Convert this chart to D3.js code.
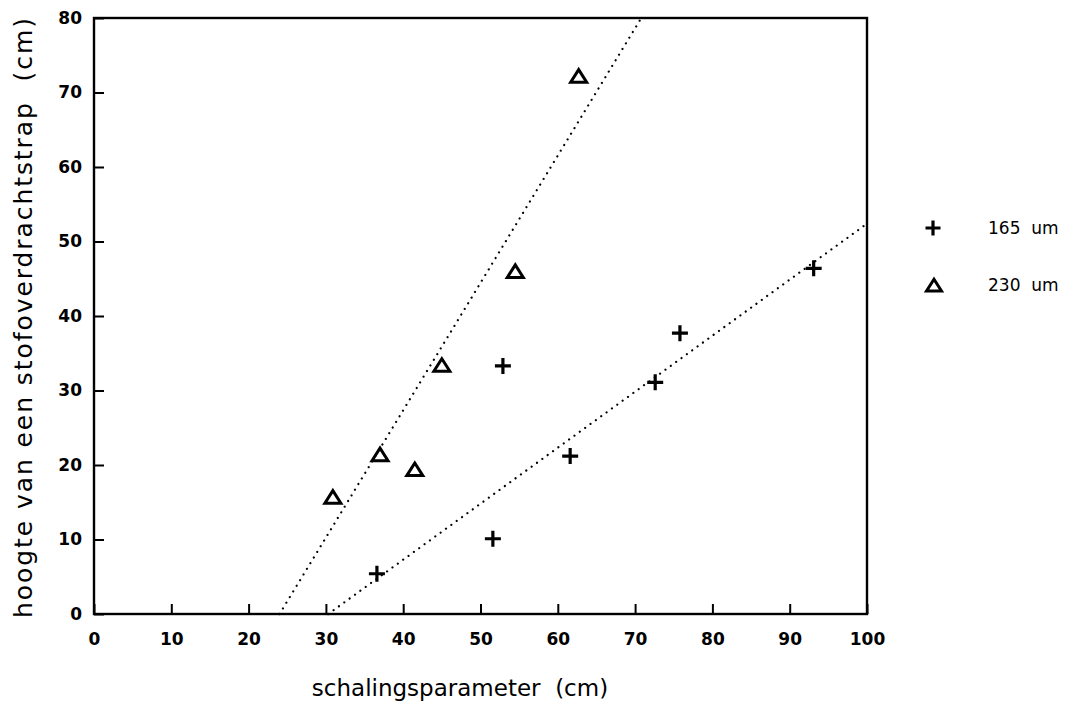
<!DOCTYPE html>
<html>
<head>
<meta charset="utf-8">
<script src="https://cdn.jsdelivr.net/npm/d3@7"></script>
<style>
  html, body { margin: 0; padding: 0; background: #fff; }
  svg { display: block; }
  .title { font-family: "DejaVu Sans", sans-serif; fill: #000; white-space: pre; }
</style>
</head>
<body>
<svg id="chart" width="1081" height="704"></svg>
<script>
// Dust transfer stage height vs. scaling parameter, two particle sizes
const series = ["165  um", "230  um"];

const x165 = [36.6, 51.6, 52.9, 61.6, 72.6, 75.8, 93.1];
const y165 = [5.4, 10.1, 33.3, 21.2, 31.1, 37.7, 46.4];

const x230 = [30.9, 37.0, 41.5, 45.0, 54.5, 62.7];
const y230 = [15.6, 21.3, 19.3, 33.3, 45.9, 72.1];

// Fitted trend lines (end points in data units)
const fit165 = [[30.3, 0], [100, 52.4]];
const fit230 = [[24.0, 0], [70.8, 80]];

const xTicks = [0, 10, 20, 30, 40, 50, 60, 70, 80, 90, 100];
const yTicks = [0, 10, 20, 30, 40, 50, 60, 70, 80];

const xTitle = "schalingsparameter  (cm)";
const yTitle = "hoogte van een stofoverdrachtstrap  (cm)";

(function () {
  const svg = d3.select("#chart");
  const mLeft = 94, mRight = 867, mTop = 18, mBottom = 614;

  const x = d3.scaleLinear().domain([0, 100]).range([mLeft, mRight]);
  const y = d3.scaleLinear().domain([0, 80]).range([mBottom, mTop]);

  // Axes with inward ticks
  const gx = svg.append("g").attr("transform", `translate(0,${mBottom})`)
    .call(d3.axisBottom(x).tickValues(xTicks).tickSizeInner(-10).tickSizeOuter(0).tickPadding(19));
  const gy = svg.append("g").attr("transform", `translate(${mLeft},0)`)
    .call(d3.axisLeft(y).tickValues(yTicks).tickSizeInner(-10).tickSizeOuter(0).tickPadding(12));
  [gx, gy].forEach(g => {
    g.attr("font-family", "DejaVu Sans, sans-serif")
     .attr("font-size", 17)
     .attr("font-weight", "bold");
    g.select(".domain").remove();
    g.selectAll(".tick line").attr("stroke", "#000").attr("stroke-width", 2);
    g.selectAll(".tick text").attr("fill", "#000");
  });

  // Plot frame
  svg.append("rect")
    .attr("x", mLeft).attr("y", mTop)
    .attr("width", mRight - mLeft).attr("height", mBottom - mTop)
    .attr("fill", "none").attr("stroke", "#000").attr("stroke-width", 2.4);

  // Dotted regression lines
  const line = d3.line().x(d => x(d[0])).y(d => y(d[1]));
  [fit165, fit230].forEach(f => {
    svg.append("path")
      .attr("d", line(f))
      .attr("fill", "none")
      .attr("stroke", "#000")
      .attr("stroke-width", 2.2)
      .attr("stroke-linecap", "round")
      .attr("stroke-dasharray", "0.01,6.6");
  });

  // Markers
  function drawCross(g, cx, cy, s) {
    g.append("path")
      .attr("d", `M${cx - s},${cy}H${cx + s}M${cx},${cy - s}V${cy + s}`)
      .attr("stroke", "#000").attr("stroke-width", 3.2).attr("fill", "none");
  }
  function drawTri(g, cx, cy, s) {
    const h = s * 0.9;
    g.append("path")
      .attr("d", `M${cx},${cy - h}L${cx + s},${cy + h * 0.75}L${cx - s},${cy + h * 0.75}Z`)
      .attr("stroke", "#000").attr("stroke-width", 3).attr("fill", "none")
      .attr("stroke-linejoin", "miter");
  }

  const pts = svg.append("g");
  x165.forEach((v, i) => drawCross(pts, x(v), y(y165[i]), 8));
  x230.forEach((v, i) => drawTri(pts, x(v), y(y230[i]), 8));

  // Legend
  const lg = svg.append("g");
  drawCross(lg, 933, 228, 7.5);
  drawTri(lg, 934, 286, 7.5);
  lg.selectAll("text").data(series).join("text")
    .attr("class", "title")
    .attr("x", 988)
    .attr("y", (d, i) => 234 + i * 57)
    .style("font-size", "17px")
    .text(d => d);

  // Axis titles
  svg.append("text").attr("class", "title")
    .attr("x", 460).attr("y", 696)
    .attr("text-anchor", "middle")
    .style("font-size", "23px")
    .text(xTitle);

  svg.append("text").attr("class", "title")
    .attr("transform", "translate(32,318) rotate(-90)")
    .attr("text-anchor", "middle")
    .style("font-size", "25px")
    .attr("textLength", 600).attr("lengthAdjust", "spacing")
    .text(yTitle);
})();
</script>
</body>
</html>
